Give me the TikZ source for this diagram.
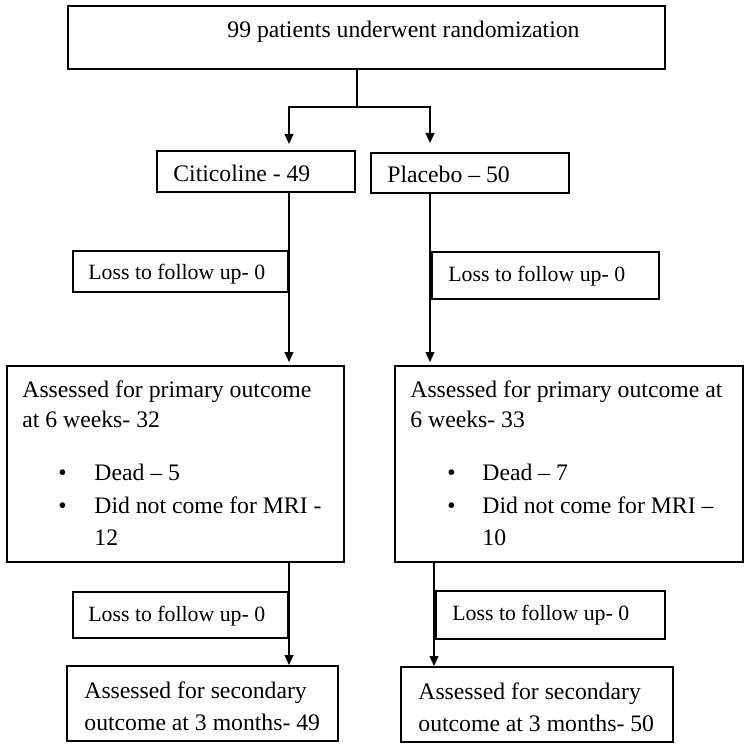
\documentclass[tikz,border=0pt]{standalone}
\usepackage{fontspec}
\setmainfont{Liberation Serif}
\usetikzlibrary{fit,arrows.meta}
\begin{document}
\begin{tikzpicture}[x=0.5pt,y=-0.5pt,
 box/.style={draw,line width=1pt,inner sep=0pt},
 txt/.style={inner sep=0pt,anchor=base west,font=\fontsize{11.85}{14}\selectfont},
 stxt/.style={txt,font=\fontsize{10.9}{13}\selectfont},
 conn/.style={line width=0.6pt},
 arr/.style={conn,-{Triangle[length=5pt,width=4.5pt]}}]
\useasboundingbox (0,0) rectangle (750,749);
% boxes
\node[box,line width=1.2pt,fit={(68,6)(665,69)}] (rand) {};
\node[box,fit={(157,151)(355,192)}] (cit) {};
\node[box,fit={(371,153)(569,193)}] (plac) {};
\node[box,fit={(73,251)(288,292)}] (loss1) {};
\node[box,fit={(432,252)(659,299)}] (loss2) {};
\node[box,fit={(7,366)(344,562)}] (prim1) {};
\node[box,fit={(395,366)(743,562)}] (prim2) {};
\node[box,fit={(73,592)(288,638)}] (loss3) {};
\node[box,fit={(436,591)(665,639)}] (loss4) {};
\node[box,fit={(67,666)(338,741)}] (sec1) {};
\node[box,fit={(401,667)(673,742)}] (sec2) {};
% texts
\node[txt] (trand) at (227,38) {99 patients underwent randomization};
\node[txt] (tcit) at (173,182) {Citicoline - 49};
\node[txt] (tplac) at (387,183) {Placebo – 50};
\node[stxt] (tloss1) at (88,279) {Loss to follow up- 0};
\node[stxt] (tloss2) at (448,281) {Loss to follow up- 0};
\node[txt] (tp1a) at (22,397) {Assessed for primary outcome};
\node[txt] (tp1b) at (22,427) {at 6 weeks- 32};
\node[txt] (b1a) at (58,480) {•};
\node[txt] (tp1c) at (94,480) {Dead – 5};
\node[txt] (b1b) at (58,513) {•};
\node[txt] (tp1d) at (94,513) {Did not come for MRI -};
\node[txt] (tp1e) at (94,545) {12};
\node[txt] (tp2a) at (410,397) {Assessed for primary outcome at};
\node[txt] (tp2b) at (410,427) {6 weeks- 33};
\node[txt] (b2a) at (447,480) {•};
\node[txt] (tp2c) at (482,480) {Dead – 7};
\node[txt] (b2b) at (447,513) {•};
\node[txt] (tp2d) at (482,513) {Did not come for MRI –};
\node[txt] (tp2e) at (482,545) {10};
\node[stxt] (tloss3) at (88,621) {Loss to follow up- 0};
\node[stxt] (tloss4) at (452,620) {Loss to follow up- 0};
\node[txt] (ts1a) at (84,698) {Assessed for secondary};
\node[txt] (ts1b) at (84,730) {outcome at 3 months- 49};
\node[txt] (ts2a) at (418,699) {Assessed for secondary};
\node[txt] (ts2b) at (418,731) {outcome at 3 months- 50};
% connectors
\coordinate (split) at (357,107);
\coordinate (lx) at (289,0);
\coordinate (rx) at (430,0);
\coordinate (rx2) at (434,0);
\draw[conn] (rand.south -| split) -- (split);
\draw[arr,shorten >=3pt] (split) -| (cit.north -| lx);
\draw[arr,shorten >=4.5pt] (split) -| (plac.north -| rx);
\draw[arr,shorten >=1.5pt] (cit.south -| lx) -- (prim1.north -| lx);
\draw[arr,shorten >=1.5pt] (plac.south -| rx) -- (prim2.north -| rx);
\draw[arr] (prim1.south -| lx) -- (sec1.north -| lx);
\draw[arr] (prim2.south -| rx2) -- (sec2.north -| rx2);
\end{tikzpicture}
\end{document}
